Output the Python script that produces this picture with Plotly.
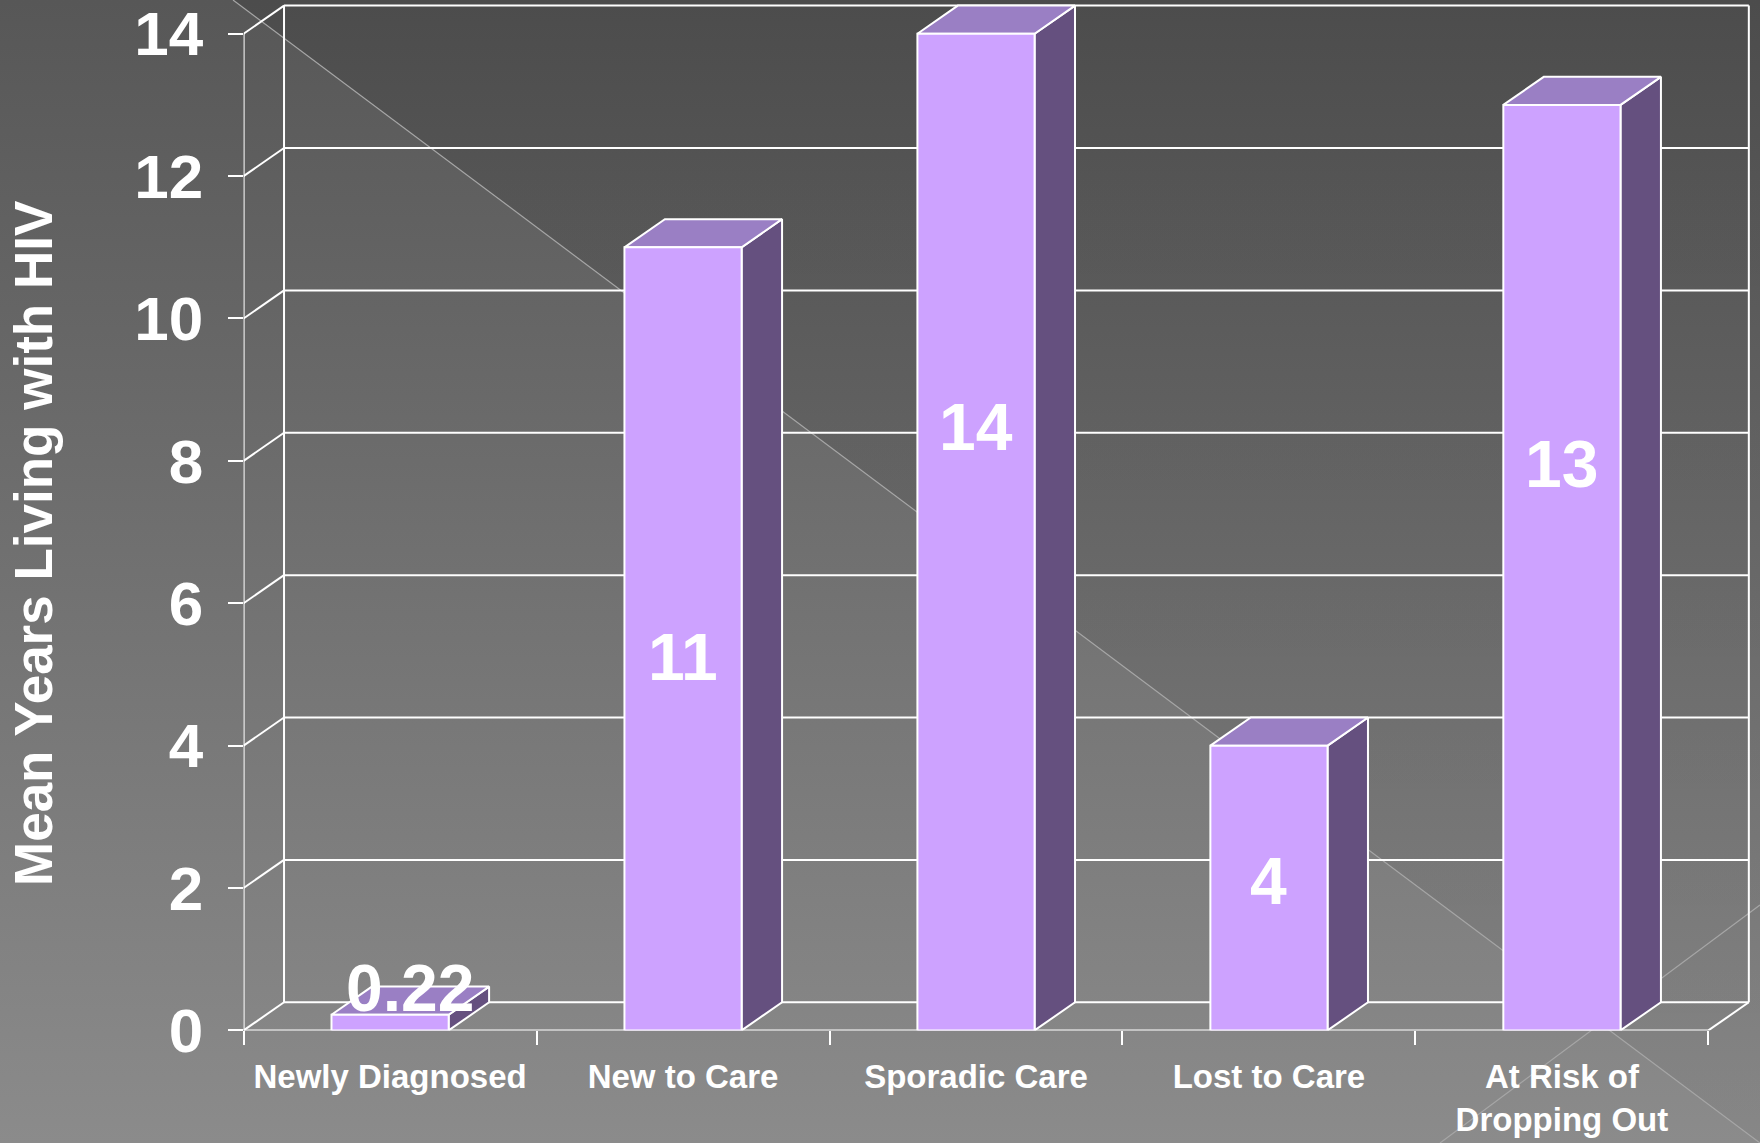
import base64
import plotly.graph_objects as go

# ---------------- data ----------------
categories = ["Newly Diagnosed", "New to Care", "Sporadic Care", "Lost to Care", "At Risk of<br>Dropping Out"]
values = [0.22, 11, 14, 4, 13]
value_labels = ["0.22", "11", "14", "4", "13"]
y_ticks = [0, 2, 4, 6, 8, 10, 12, 14]
y_title = "Mean Years Living with HIV"

# ---------------- layout / style ----------------
W, H = 1760, 1143
FONT = "Liberation Sans, Arial, sans-serif"
WHITE = "#ffffff"
FRONT_C = "#CDA2FF"
SIDE_C = "#65507F"
TOP_C = "#9A7FC4"
BAR_W = 0.40            # fraction of category width
DX, DY = 0.138, 0.395   # oblique depth offset in data units
X0_PX, X_PX_PER = 243.6, 292.96   # pixel position of x=-0.5 and px per category
Y0_PX, Y_PX_PER = 1030.4, 71.19   # pixel position of y=0 and px per unit
label_y = [0.6, 5.25, 8.48, 2.1, 7.96]   # vertical placement of value labels
label_dx = [DX / 2, 0, 0, 0, 0]

n = len(categories)
centers = list(range(n))
bounds = [i - 0.5 for i in range(n + 1)]
ymax = max(y_ticks)
xr = [-0.5, n - 0.5 + DX + 0.01]
yr = [0, ymax + DY + 0.035]
xdom = [(X0_PX) / W, (X0_PX + (xr[1] - xr[0]) * X_PX_PER) / W]
ydom = [1 - Y0_PX / H, 1 - (Y0_PX - yr[1] * Y_PX_PER) / H]

# ---------------- background (slide template) ----------------
svg = f'''<svg xmlns="http://www.w3.org/2000/svg" width="{W}" height="{H}" viewBox="0 0 {W} {H}" preserveAspectRatio="none">
<defs>
<linearGradient id="g" x1="0" y1="0" x2="0" y2="1">
<stop offset="0" stop-color="#575757"/><stop offset="1" stop-color="#8b8b8b"/></linearGradient>
<linearGradient id="d" x1="0" y1="0" x2="0" y2="1">
<stop offset="0" stop-color="#000" stop-opacity="0.13"/><stop offset="1" stop-color="#000" stop-opacity="0.03"/></linearGradient>
</defs>
<rect width="{W}" height="{H}" fill="url(#g)"/>
<polygon points="233,0 {W},0 {W},{H}" fill="url(#d)"/>
<line x1="233" y1="0" x2="{W}" y2="{H}" stroke="#a6a6a6" stroke-width="1.2"/>
<line x1="1440" y1="{H}" x2="{W}" y2="905" stroke="#a6a6a6" stroke-width="1.2"/>
</svg>'''
bg_src = "data:image/svg+xml;base64," + base64.b64encode(svg.encode()).decode()

fig = go.Figure()

# ---------------- 3D frame (walls & grid) ----------------
gx, gy = [], []
for v in y_ticks:
    gx += [-0.5, -0.5 + DX, None]
    gy += [v, v + DY, None]
    gx += [-0.5 + DX, n - 0.5 + DX, None]
    gy += [v + DY, v + DY, None]
for xb in (-0.5 + DX, n - 0.5 + DX):
    gx += [xb, xb, None]
    gy += [DY, ymax + DY, None]
gx += [-0.5, -0.5, None, -0.5, n - 0.5, None, n - 0.5, n - 0.5 + DX, None]
gy += [0, ymax, None, 0, 0, None, 0, DY, None]
fig.add_trace(go.Scatter(x=gx, y=gy, mode="lines", line=dict(color=WHITE, width=2),
                         hoverinfo="skip", showlegend=False))

# ---------------- 3D bars ----------------
sx, sy, tx, ty, fx, fy = [], [], [], [], [], []
for c, v in zip(centers, values):
    l, r = c - BAR_W / 2, c + BAR_W / 2
    sx += [r, r + DX, r + DX, r, r, None]
    sy += [0, DY, v + DY, v, 0, None]
    tx += [l, l + DX, r + DX, r, l, None]
    ty += [v, v + DY, v + DY, v, v, None]
    fx += [l, r, r, l, l, None]
    fy += [0, 0, v, v, 0, None]
for xs, ys, col in ((sx, sy, SIDE_C), (tx, ty, TOP_C), (fx, fy, FRONT_C)):
    fig.add_trace(go.Scatter(x=xs, y=ys, mode="lines", fill="toself", fillcolor=col,
                             line=dict(color=WHITE, width=2), hoverinfo="skip", showlegend=False))

# anchor trace for the category-label axis
fig.add_trace(go.Scatter(x=centers, y=[0] * n, xaxis="x2", mode="markers",
                         marker=dict(opacity=0), hoverinfo="skip", showlegend=False))

# ---------------- value labels ----------------
for c, ly, ddx, txt in zip(centers, label_y, label_dx, value_labels):
    fig.add_annotation(x=c + ddx, y=ly, text=txt, showarrow=False, xref="x", yref="y",
                       font=dict(family=FONT, size=66, color=WHITE, weight="bold"))

# y title
fig.add_annotation(x=34 / W, y=1 - 544 / H, xref="paper", yref="paper", text=y_title,
                   textangle=-90, showarrow=False, xanchor="center", yanchor="middle",
                   font=dict(family=FONT, size=53, color=WHITE, weight="bold"))

fig.update_layout(
    width=W, height=H,
    margin=dict(l=0, r=0, t=0, b=0, autoexpand=False),
    paper_bgcolor="#6b6b6b",
    plot_bgcolor="rgba(0,0,0,0)",
    showlegend=False,
    images=[dict(source=bg_src, xref="paper", yref="paper", x=0, y=1, sizex=1, sizey=1,
                 sizing="stretch", xanchor="left", yanchor="top", layer="below")],
    xaxis=dict(range=xr, domain=xdom, anchor="y", showgrid=False, zeroline=False, showline=False,
               tickvals=bounds, ticks="outside", ticklen=14, tickwidth=2, tickcolor=WHITE,
               showticklabels=False, fixedrange=True, automargin=False),
    xaxis2=dict(range=xr, domain=xdom, anchor="y", overlaying="x", side="bottom",
                showgrid=False, zeroline=False, showline=False,
                tickvals=centers, ticktext=categories, ticks="", ticklabelstandoff=24,
                ticklabeloverflow="allow", automargin=False,
                tickfont=dict(family=FONT, size=33, color=WHITE, weight="bold"), fixedrange=True),
    yaxis=dict(range=yr, domain=ydom, anchor="x", showgrid=False, zeroline=False, showline=False,
               tickvals=y_ticks, ticks="outside", ticklen=15, tickwidth=2, tickcolor=WHITE,
               ticklabelstandoff=12, ticklabeloverflow="allow", automargin=False,
               tickfont=dict(family=FONT, size=62, color=WHITE, weight="bold"), fixedrange=True),
)

fig.write_html("out.html", post_script="document.body.style.margin='0';",
               config={"displayModeBar": False})
